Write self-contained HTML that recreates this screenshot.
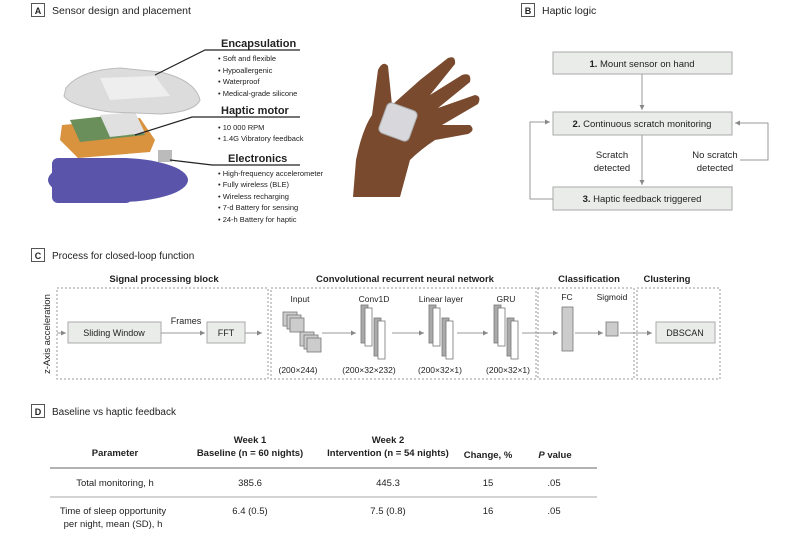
<!DOCTYPE html>
<html><head><meta charset="utf-8"><style>
body{margin:0;background:#fff;}
svg text{font-family:"Liberation Sans",sans-serif;fill:#222;}
</style></head><body>
<svg width="800" height="530" viewBox="0 0 800 530" xmlns="http://www.w3.org/2000/svg">
<defs>
<marker id="ar" markerWidth="6" markerHeight="6" refX="5" refY="3" orient="auto"><path d="M0,0.5 L5,3 L0,5.5z" fill="#888"/></marker>
</defs>
<!-- Section A -->
<rect x="31.5" y="3.5" width="13" height="13" fill="#fff" stroke="#555"/>
<text x="38" y="14" font-size="9" font-weight="bold" text-anchor="middle">A</text>
<text x="52" y="14" font-size="10.5" fill="#333">Sensor design and placement</text>
<!-- sensor render -->
<ellipse cx="118" cy="180" rx="70" ry="22" fill="#5a54ab"/>
<rect x="52" y="158" width="80" height="45" rx="6" fill="#5a54ab"/>
<path d="M62,125 L140,118 L155,140 L150,152 L78,158 L60,140z" fill="#d9923e"/>
<path d="M70,120 L135,113 L145,135 L80,142z" fill="#6a8f5a"/>
<path d="M100,115 L135,112 L145,133 L110,137z" fill="#e0e0e0"/>
<rect x="158" y="150" width="14" height="12" fill="#bbb"/>
<path d="M66,88 Q80,70 120,68 L160,72 Q195,80 200,100 Q195,112 160,114 L110,112 Q70,106 64,96z" fill="#dcdcdc" stroke="#bbb"/>
<path d="M100,78 L155,76 L170,96 L110,100z" fill="#eee"/>
<!-- leaders -->
<g stroke="#222" stroke-width="1.2" fill="none">
<path d="M155,75 L205,50 L300,50"/>
<path d="M135,135 L192,117 L300,117"/>
<path d="M170,160 L212,165 L300,165"/>
</g>
<g font-size="11" font-weight="bold">
<text x="221" y="47">Encapsulation</text>
<text x="221" y="114">Haptic motor</text>
<text x="228" y="162">Electronics</text>
</g>
<g font-size="7.5" fill="#333">
<text x="218" y="61">• Soft and flexible</text>
<text x="218" y="73">• Hypoallergenic</text>
<text x="218" y="84">• Waterproof</text>
<text x="218" y="96">• Medical-grade silicone</text>
<text x="218" y="130">• 10 000 RPM</text>
<text x="218" y="141">• 1.4G Vibratory feedback</text>
<text x="218" y="176">• High-frequency accelerometer</text>
<text x="218" y="187">• Fully wireless (BLE)</text>
<text x="218" y="199">• Wireless recharging</text>
<text x="218" y="210">• 7-d Battery for sensing</text>
<text x="218" y="222">• 24-h Battery for haptic</text>
</g>
<!-- hand -->
<g fill="#7a4a2e">
<path d="M353,197 L356,160 Q362,130 372,115 L378,70 Q383,60 388,66 L392,105 L420,80 L448,58 Q456,55 455,64 L430,95 L462,75 Q472,72 470,82 L438,108 L475,95 Q482,96 478,104 L442,125 L470,125 Q476,130 468,134 L435,140 Q420,150 410,160 L400,197z"/>
</g>
<rect x="382" y="106" width="32" height="32" rx="5" fill="#d8d8dc" stroke="#aaa" transform="rotate(20 398 122)"/>
<!-- Section B -->
<rect x="521.5" y="3.5" width="13" height="13" fill="#fff" stroke="#555"/>
<text x="528" y="14" font-size="9" font-weight="bold" text-anchor="middle">B</text>
<text x="542" y="14" font-size="10.5" fill="#333">Haptic logic</text>
<g fill="#e9ece9" stroke="#aaa">
<rect x="553" y="52" width="179" height="22"/>
<rect x="553" y="112" width="179" height="23"/>
<rect x="553" y="187" width="179" height="23"/>
</g>
<g font-size="9.5" text-anchor="middle">
<text x="642" y="67"><tspan font-weight="bold">1.</tspan> Mount sensor on hand</text>
<text x="642" y="127"><tspan font-weight="bold">2.</tspan> Continuous scratch monitoring</text>
<text x="642" y="202"><tspan font-weight="bold">3.</tspan> Haptic feedback triggered</text>
</g>
<g stroke="#999" fill="none" stroke-width="1">
<path d="M642,74 L642,110" marker-end="url(#ar)"/>
<path d="M642,135 L642,185" marker-end="url(#ar)"/>
<path d="M553,199 L530,199 L530,122 L550,122" marker-end="url(#ar)"/>
<path d="M740,160 L768,160 L768,123 L735,123" marker-end="url(#ar)"/>
</g>
<g font-size="9.5" text-anchor="middle" fill="#333">
<text x="612" y="158">Scratch</text><text x="612" y="171">detected</text>
<text x="715" y="158">No scratch</text><text x="715" y="171">detected</text>
</g>
<!-- Section C -->
<rect x="31.5" y="248.5" width="13" height="13" fill="#fff" stroke="#555"/>
<text x="38" y="259" font-size="9" font-weight="bold" text-anchor="middle">C</text>
<text x="52" y="259" font-size="10" fill="#333">Process for closed-loop function</text>
<g font-size="9.5" font-weight="bold" text-anchor="middle">
<text x="164" y="282">Signal processing block</text>
<text x="405" y="282">Convolutional recurrent neural network</text>
<text x="589" y="282">Classification</text>
<text x="667" y="282">Clustering</text>
</g>
<g fill="none" stroke="#999" stroke-dasharray="2,2">
<rect x="57" y="288" width="211" height="91"/>
<rect x="271" y="288" width="265" height="91"/>
<rect x="538" y="288" width="96" height="91"/>
<rect x="637" y="288" width="83" height="91"/>
</g>
<text transform="translate(50,334) rotate(-90)" font-size="9.5" text-anchor="middle" fill="#333">z-Axis acceleration</text>
<g fill="#e9ece9" stroke="#aaa">
<rect x="68" y="322" width="93" height="21"/>
<rect x="207" y="322" width="38" height="21"/>
<rect x="656" y="322" width="59" height="21"/>
</g>
<g font-size="9" text-anchor="middle">
<text x="114" y="336">Sliding Window</text>
<text x="226" y="336">FFT</text>
<text x="685" y="336">DBSCAN</text>
<text x="186" y="324">Frames</text>
</g>
<g stroke="#999" fill="none">
<path d="M57,333 L66,333" marker-end="url(#ar)"/>
<path d="M161,333 L205,333" marker-end="url(#ar)"/>
<path d="M245,333 L262,333" marker-end="url(#ar)"/>
<path d="M322,333 L356,333" marker-end="url(#ar)"/>
<path d="M392,333 L424,333" marker-end="url(#ar)"/>
<path d="M457,333 L488,333" marker-end="url(#ar)"/>
<path d="M522,333 L558,333" marker-end="url(#ar)"/>
<path d="M575,333 L603,333" marker-end="url(#ar)"/>
<path d="M620,333 L652,333" marker-end="url(#ar)"/>
</g>
<g font-size="8.5" text-anchor="middle" fill="#333">
<text x="300" y="302">Input</text>
<text x="374" y="302">Conv1D</text>
<text x="441" y="302">Linear layer</text>
<text x="506" y="302">GRU</text>
<text x="567" y="300">FC</text>
<text x="612" y="300">Sigmoid</text>
<text x="298" y="373">(200×244)</text>
<text x="369" y="373">(200×32×232)</text>
<text x="440" y="373">(200×32×1)</text>
<text x="508" y="373">(200×32×1)</text>
</g>
<g stroke="#777" fill="#ccc" stroke-width="0.8">
<rect x="283" y="312" width="14" height="14"/><rect x="287" y="315" width="14" height="14"/><rect x="290" y="318" width="14" height="14"/>
<rect x="300" y="332" width="14" height="14"/><rect x="304" y="335" width="14" height="14"/><rect x="307" y="338" width="14" height="14"/>
<rect x="361" y="305" width="7" height="38" fill="#aaa"/><rect x="365" y="308" width="7" height="38" fill="#fff"/>
<rect x="374" y="318" width="7" height="38" fill="#aaa"/><rect x="378" y="321" width="7" height="38" fill="#fff"/>
<rect x="429" y="305" width="7" height="38" fill="#aaa"/><rect x="433" y="308" width="7" height="38" fill="#fff"/>
<rect x="442" y="318" width="7" height="38" fill="#aaa"/><rect x="446" y="321" width="7" height="38" fill="#fff"/>
<rect x="494" y="305" width="7" height="38" fill="#aaa"/><rect x="498" y="308" width="7" height="38" fill="#fff"/>
<rect x="507" y="318" width="7" height="38" fill="#aaa"/><rect x="511" y="321" width="7" height="38" fill="#fff"/>
<rect x="562" y="307" width="11" height="44"/>
<rect x="606" y="322" width="12" height="14"/>
</g>
<!-- Section D -->
<rect x="31.5" y="404.5" width="13" height="13" fill="#fff" stroke="#555"/>
<text x="38" y="415" font-size="9" font-weight="bold" text-anchor="middle">D</text>
<text x="52" y="415" font-size="10" fill="#333">Baseline vs haptic feedback</text>
<g font-size="9.5" font-weight="bold" text-anchor="middle">
<text x="115" y="456">Parameter</text>
<text x="250" y="443">Week 1</text>
<text x="250" y="456">Baseline (n = 60 nights)</text>
<text x="388" y="443">Week 2</text>
<text x="388" y="456">Intervention (n = 54 nights)</text>
<text x="488" y="458">Change, %</text>
<text x="555" y="458"><tspan font-style="italic">P</tspan> value</text>
</g>
<line x1="50" y1="468" x2="597" y2="468" stroke="#999" stroke-width="1.5"/>
<line x1="50" y1="497" x2="597" y2="497" stroke="#aaa"/>
<g font-size="9.5" text-anchor="middle" fill="#333">
<text x="115" y="486">Total monitoring, h</text>
<text x="250" y="486">385.6</text>
<text x="388" y="486">445.3</text>
<text x="488" y="486">15</text>
<text x="554" y="486">.05</text>
<text x="113" y="514">Time of sleep opportunity</text>
<text x="113" y="527">per night, mean (SD), h</text>
<text x="250" y="514">6.4 (0.5)</text>
<text x="388" y="514">7.5 (0.8)</text>
<text x="488" y="514">16</text>
<text x="554" y="514">.05</text>
</g>
</svg>
</body></html>
